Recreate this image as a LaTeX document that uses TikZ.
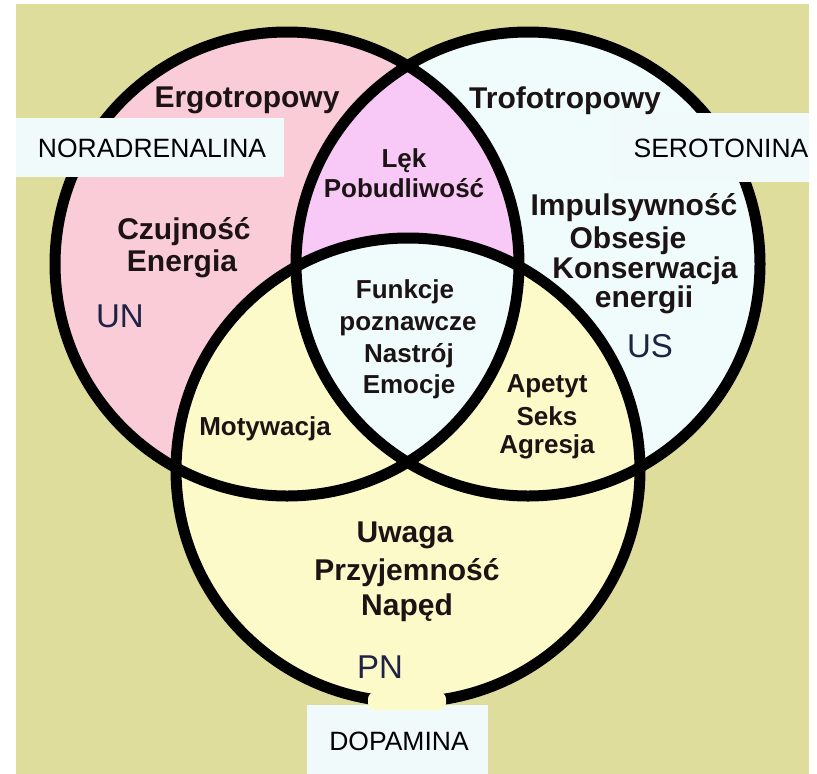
\documentclass[tikz,border=0pt]{standalone}
\usepackage{fontspec}
\setmainfont{Liberation Sans}
\definecolor{bgtan}{HTML}{DFDD9C}
\definecolor{pinkc}{HTML}{FACCD8}
\definecolor{lavc}{HTML}{F8C8F6}
\definecolor{cyanc}{HTML}{F0FCFC}
\definecolor{yelc}{HTML}{FCFAC9}
\definecolor{boxc}{HTML}{F0FAFA}
\definecolor{labc}{HTML}{1C1414}
\definecolor{navy}{HTML}{1E2244}
\tikzset{
  ring/.style={draw=black, line width=11pt},
  big/.style={font=\fontsize{30}{34}\selectfont\bfseries, text=labc, anchor=base, inner sep=0pt},
  mid/.style={font=\fontsize{26}{30}\selectfont\bfseries, text=labc, anchor=base, inner sep=0pt},
  code/.style={font=\fontsize{33}{36}\selectfont, text=navy, anchor=base, inner sep=0pt},
  nt/.style={font=\fontsize{26.5}{30}\selectfont, text=black, anchor=base, inner sep=0pt},
  boxnode/.style={fill=boxc, draw=none, inner sep=0pt, anchor=north west}
}
\begin{document}
\begin{tikzpicture}[x=1pt,y=-1pt]
\useasboundingbox (0,0) rectangle (817,774);
\fill[bgtan] (16,4) rectangle (809,774);
\coordinate (cL) at (287,264);
\coordinate (cR) at (528,264);
\coordinate (cB) at (408,470);
% fills
\fill[pinkc] (cL) circle[radius=232pt];
\fill[cyanc] (cR) circle[radius=232pt];
\fill[yelc] (cB) circle[radius=232pt];
\begin{scope}
  \clip (cL) circle[radius=232pt];
  \fill[lavc] (cR) circle[radius=232pt];
\end{scope}
\begin{scope}
  \clip (cL) circle[radius=232pt];
  \clip (cR) circle[radius=232pt];
  \fill[cyanc] (cB) circle[radius=232pt];
\end{scope}
% outlines
\draw[ring] (cL) circle[radius=232pt];
\draw[ring] (cR) circle[radius=232pt];
\draw[ring] (cB) circle[radius=232pt];
% label boxes
\node[boxnode, minimum width=268pt, minimum height=59pt] (norbox) at (16,118) {};
\node[boxnode, minimum width=197pt, minimum height=69pt] (serbox) at (612,113) {};
\node[boxnode, minimum width=181pt, minimum height=69pt] (dopbox) at (307,705) {};
\fill[yelc, rounded corners=7pt] (368,692) rectangle (446,710);
\node[nt] (nor) at (152,157) {NORADRENALINA};
\node[nt] (ser) at (721,157) {SEROTONINA};
\node[nt] (dop) at (399,750) {DOPAMINA};
% big labels
\node[big] (ergo) at (247,107) {Ergotropowy};
\node[big] (trof) at (565,108) {Trofotropowy};
\node[big] (czuj) at (184,239) {Czujność};
\node[big] (ener) at (182,271) {Energia};
\node[big] (impu) at (634,215) {Impulsywność};
\node[big] (obse) at (628,248) {Obsesje};
\node[big] (kons) at (645,278) {Konserwacja};
\node[big] (enrg) at (644,307) {energii};
\node[big] (uwag) at (405,542) {Uwaga};
\node[big] (przy) at (407,580) {Przyjemność};
\node[big] (nape) at (407,615) {Napęd};
% medium labels
\node[mid] (lek) at (404,167) {Lęk};
\node[mid] (pobu) at (404,197) {Pobudliwość};
\node[mid] (funk) at (405,298) {Funkcje};
\node[mid] (pozn) at (408,330) {poznawcze};
\node[mid] (nast) at (409,362) {Nastrój};
\node[mid] (emoc) at (409,393) {Emocje};
\node[mid] (moty) at (265,435) {Motywacja};
\node[mid] (apet) at (547,392) {Apetyt};
\node[mid] (seks) at (547,425) {Seks};
\node[mid] (agre) at (547,453) {Agresja};
% codes
\node[code] (un) at (120,327) {UN};
\node[code] (us) at (650,357) {US};
\node[code] (pn) at (380,678) {PN};
\end{tikzpicture}
\end{document}
